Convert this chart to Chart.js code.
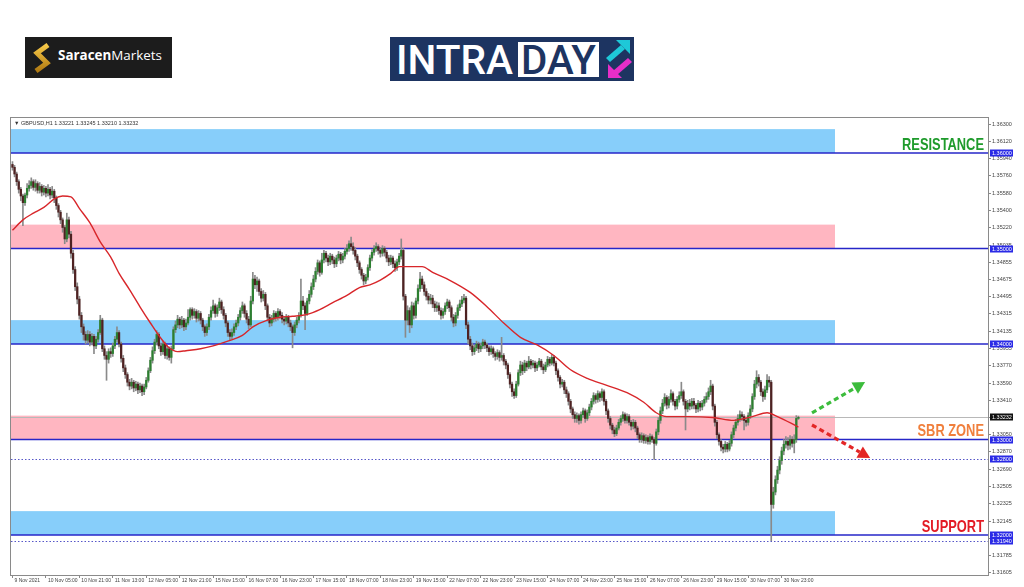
<!DOCTYPE html>
<html><head><meta charset="utf-8">
<script src="https://cdn.jsdelivr.net/npm/chart.js@4.4.1/dist/chart.umd.min.js"></script>
<style>
html,body{margin:0;padding:0;background:#fff;width:1024px;height:587px;overflow:hidden}
#c{position:absolute;left:0;top:0}
#sm{position:absolute;left:25px;top:37px;width:147px;height:41px;background:#1c1c1c}
#smt{position:absolute;left:33px;top:10px;line-height:17px;color:#fff;font-family:"Open Sans",sans-serif;font-size:13.4px;white-space:nowrap}
#id{position:absolute;left:390px;top:37px}
</style></head><body>
<canvas id="c" width="1024" height="587"></canvas>
<div id="sm">
<svg width="147" height="41" style="position:absolute;left:0;top:0">
<defs><linearGradient id="g" x1="0" y1="0" x2="0" y2="1"><stop offset="0" stop-color="#f7c948"/><stop offset="1" stop-color="#b07a12"/></linearGradient></defs>
<polyline points="23,8 12,16 22,26 11,34" fill="none" stroke="url(#g)" stroke-width="5" stroke-linejoin="miter"/>
</svg>
<div id="smt"><b>Saracen</b>Markets</div>
</div>
<svg id="id" width="244" height="44">
<rect width="244" height="44" fill="#1d3461"/>
<text x="6" y="37" font-family="Roboto" font-weight="500" font-size="40" fill="#fff" textLength="117" lengthAdjust="spacingAndGlyphs">INTRA</text>
<rect x="128" y="5" width="81" height="35" fill="#fff"/>
<text x="131" y="37" font-family="Roboto" font-weight="500" font-size="40" fill="#1d3461" textLength="75" lengthAdjust="spacingAndGlyphs">DAY</text>
<polygon points="226,3 240,3 240,17" fill="#1ec8d8"/>
<polygon points="216,21 231,8 235,12 220,25" fill="#1ec8d8"/>
<polygon points="218,41 218,27 232,41" fill="#e62ec8"/>
<polygon points="238,21 242,25 227,38 223,34" fill="#e62ec8"/>
</svg>
<script>
// ---------------- DATA ----------------
const timeLabels = ["9 Nov 2021","10 Nov 05:00","10 Nov 21:00","11 Nov 13:00","12 Nov 05:00","12 Nov 21:00","15 Nov 15:00","16 Nov 07:00","16 Nov 23:00","17 Nov 15:00","18 Nov 07:00","18 Nov 23:00","19 Nov 15:00","22 Nov 07:00","22 Nov 23:00","23 Nov 15:00","24 Nov 07:00","24 Nov 23:00","25 Nov 15:00","26 Nov 07:00","26 Nov 23:00","29 Nov 15:00","30 Nov 07:00","30 Nov 23:00"];
const timeIndex = [0,16,32,48,64,80,96,112,128,144,160,176,192,208,224,240,256,272,288,304,320,336,352,368];

const firstOpen = 1.3588;
const closes = [
1.3585,1.3578,1.3570,1.3562,1.3555,1.3548,1.3556,1.3563,1.3566,1.3570,
1.3564,1.3568,1.3561,1.3565,1.3559,1.3563,1.3558,1.3562,1.3556,1.3560,
1.3553,1.3545,1.3538,1.3530,1.3522,1.3510,1.3530,1.3515,1.3495,1.3478,
1.3460,1.3447,1.3430,1.3418,1.3410,1.3404,1.3410,1.3402,1.3408,1.3398,
1.3405,1.3412,1.3425,1.3395,1.3388,1.3384,1.3392,1.3390,1.3398,1.3405,
1.3412,1.3400,1.3385,1.3375,1.3368,1.3360,1.3356,1.3360,1.3354,1.3358,
1.3352,1.3356,1.3350,1.3355,1.3362,1.3372,1.3383,1.3393,1.3402,1.3410,
1.3398,1.3392,1.3400,1.3388,1.3395,1.3386,1.3395,1.3415,1.3420,1.3426,
1.3420,1.3425,1.3418,1.3422,1.3428,1.3436,1.3430,1.3434,1.3427,1.3432,
1.3425,1.3418,1.3412,1.3418,1.3428,1.3435,1.3440,1.3432,1.3438,1.3444,
1.3436,1.3430,1.3422,1.3412,1.3408,1.3412,1.3418,1.3422,1.3428,1.3435,
1.3440,1.3432,1.3426,1.3420,1.3445,1.3468,1.3462,1.3466,1.3455,1.3448,
1.3452,1.3440,1.3428,1.3422,1.3426,1.3432,1.3428,1.3434,1.3430,1.3426,
1.3424,1.3428,1.3422,1.3418,1.3412,1.3420,1.3425,1.3430,1.3445,1.3440,
1.3432,1.3445,1.3452,1.3460,1.3468,1.3476,1.3485,1.3475,1.3488,1.3495,
1.3490,1.3486,1.3492,1.3488,1.3484,1.3490,1.3494,1.3488,1.3492,1.3497,
1.3500,1.3505,1.3502,1.3498,1.3492,1.3485,1.3478,1.3472,1.3466,1.3470,
1.3480,1.3490,1.3496,1.3500,1.3502,1.3498,1.3495,1.3500,1.3496,1.3490,
1.3486,1.3490,1.3484,1.3480,1.3486,1.3492,1.3498,1.3450,1.3425,1.3435,
1.3420,1.3440,1.3430,1.3445,1.3458,1.3468,1.3462,1.3455,1.3450,1.3446,
1.3448,1.3442,1.3438,1.3440,1.3435,1.3430,1.3434,1.3440,1.3444,1.3438,
1.3428,1.3422,1.3430,1.3438,1.3442,1.3446,1.3448,1.3420,1.3405,1.3398,
1.3392,1.3396,1.3400,1.3395,1.3398,1.3402,1.3399,1.3396,1.3392,1.3395,
1.3390,1.3387,1.3391,1.3386,1.3388,1.3382,1.3378,1.3368,1.3358,1.3350,
1.3346,1.3358,1.3370,1.3378,1.3372,1.3380,1.3376,1.3382,1.3378,1.3380,
1.3375,1.3378,1.3382,1.3376,1.3373,1.3378,1.3384,1.3380,1.3386,1.3380,
1.3372,1.3365,1.3358,1.3360,1.3352,1.3348,1.3340,1.3332,1.3326,1.3322,
1.3325,1.3320,1.3326,1.3330,1.3322,1.3328,1.3334,1.3340,1.3346,1.3342,
1.3348,1.3344,1.3350,1.3340,1.3330,1.3322,1.3315,1.3310,1.3306,1.3312,
1.3318,1.3322,1.3326,1.3320,1.3324,1.3318,1.3314,1.3318,1.3312,1.3305,
1.3300,1.3304,1.3299,1.3302,1.3298,1.3303,1.3300,1.3296,1.3308,1.3320,
1.3330,1.3338,1.3344,1.3336,1.3342,1.3348,1.3340,1.3335,1.3342,1.3346,
1.3350,1.3340,1.3332,1.3338,1.3335,1.3340,1.3336,1.3332,1.3338,1.3334,
1.3338,1.3342,1.3345,1.3350,1.3356,1.3335,1.3318,1.3305,1.3298,1.3292,
1.3290,1.3295,1.3290,1.3296,1.3305,1.3312,1.3318,1.3322,1.3326,1.3324,
1.3320,1.3318,1.3325,1.3332,1.3345,1.3358,1.3365,1.3360,1.3350,1.3345,
1.3352,1.3362,1.3360,1.3232,1.3245,1.3258,1.3268,1.3278,1.3288,1.3295,
1.3298,1.3294,1.3300,1.3296,1.3300,1.33221,1.33232];
const highs = [
1.3591,1.3587,1.3580,1.3572,1.3564,1.3557,1.3558,1.3568,1.3571,1.3574,
1.3572,1.3572,1.3570,1.3569,1.3567,1.3566,1.3565,1.3567,1.3564,1.3565,
1.3562,1.3555,1.3547,1.3540,1.3532,1.3524,1.3537,1.3533,1.3518,1.3498,
1.3481,1.3464,1.3450,1.3433,1.3421,1.3413,1.3414,1.3413,1.3411,1.3410,
1.3408,1.3415,1.3430,1.3427,1.3398,1.3392,1.3395,1.3396,1.3401,1.3408,
1.3418,1.3414,1.3402,1.3388,1.3378,1.3370,1.3363,1.3364,1.3362,1.3361,
1.3360,1.3359,1.3358,1.3358,1.3365,1.3375,1.3386,1.3397,1.3405,1.3414,
1.3412,1.3401,1.3403,1.3402,1.3398,1.3397,1.3398,1.3418,1.3424,1.3430,
1.3428,1.3429,1.3427,1.3426,1.3436,1.3438,1.3438,1.3437,1.3436,1.3435,
1.3434,1.3427,1.3420,1.3421,1.3431,1.3439,1.3446,1.3442,1.3441,1.3448,
1.3446,1.3439,1.3432,1.3424,1.3415,1.3416,1.3421,1.3425,1.3431,1.3438,
1.3444,1.3442,1.3435,1.3429,1.3450,1.3475,1.3472,1.3470,1.3468,1.3458,
1.3456,1.3454,1.3442,1.3431,1.3430,1.3435,1.3434,1.3437,1.3436,1.3433,
1.3429,1.3431,1.3430,1.3425,1.3420,1.3423,1.3428,1.3433,1.3468,1.3450,
1.3443,1.3448,1.3456,1.3464,1.3472,1.3480,1.3488,1.3487,1.3495,1.3498,
1.3497,1.3493,1.3495,1.3494,1.3491,1.3493,1.3497,1.3496,1.3495,1.3500,
1.3504,1.3508,1.3512,1.3506,1.3501,1.3494,1.3487,1.3480,1.3474,1.3473,
1.3483,1.3493,1.3499,1.3503,1.3506,1.3504,1.3501,1.3503,1.3502,1.3498,
1.3493,1.3493,1.3492,1.3487,1.3489,1.3495,1.3510,1.3500,1.3452,1.3440,
1.3438,1.3444,1.3443,1.3448,1.3462,1.3475,1.3471,1.3465,1.3458,1.3453,
1.3452,1.3451,1.3445,1.3444,1.3443,1.3438,1.3437,1.3443,1.3447,1.3446,
1.3440,1.3431,1.3433,1.3441,1.3446,1.3450,1.3452,1.3450,1.3423,1.3408,
1.3401,1.3399,1.3403,1.3402,1.3401,1.3405,1.3404,1.3401,1.3398,1.3398,
1.3397,1.3392,1.3394,1.3393,1.3407,1.3390,1.3384,1.3380,1.3370,1.3360,
1.3353,1.3361,1.3373,1.3382,1.3381,1.3383,1.3382,1.3387,1.3384,1.3383,
1.3382,1.3381,1.3385,1.3384,1.3379,1.3381,1.3387,1.3386,1.3389,1.3388,
1.3382,1.3374,1.3367,1.3363,1.3362,1.3355,1.3350,1.3342,1.3334,1.3329,
1.3328,1.3327,1.3329,1.3333,1.3332,1.3331,1.3337,1.3343,1.3349,1.3348,
1.3351,1.3350,1.3353,1.3352,1.3342,1.3332,1.3324,1.3317,1.3313,1.3315,
1.3321,1.3325,1.3329,1.3328,1.3327,1.3326,1.3320,1.3321,1.3320,1.3314,
1.3307,1.3307,1.3306,1.3305,1.3304,1.3306,1.3305,1.3302,1.3311,1.3323,
1.3334,1.3342,1.3348,1.3346,1.3345,1.3352,1.3350,1.3342,1.3345,1.3350,
1.3360,1.3352,1.3342,1.3341,1.3342,1.3343,1.3343,1.3338,1.3341,1.3340,
1.3341,1.3345,1.3349,1.3354,1.3362,1.3358,1.3337,1.3320,1.3307,1.3300,
1.3295,1.3298,1.3297,1.3299,1.3308,1.3315,1.3321,1.3326,1.3330,1.3329,
1.3326,1.3323,1.3328,1.3336,1.3348,1.3362,1.3372,1.3368,1.3362,1.3353,
1.3356,1.3368,1.3366,1.3362,1.3250,1.3262,1.3272,1.3282,1.3292,1.3300,
1.3303,1.3302,1.3304,1.3303,1.3305,1.3325,1.33245];
const lows = [
1.3582,1.3575,1.3566,1.3558,1.3550,1.3524,1.3545,1.3553,1.3560,1.3563,
1.3561,1.3560,1.3558,1.3558,1.3555,1.3556,1.3554,1.3555,1.3552,1.3553,
1.3548,1.3541,1.3533,1.3526,1.3517,1.3505,1.3507,1.3511,1.3490,1.3474,
1.3456,1.3442,1.3426,1.3412,1.3404,1.3400,1.3401,1.3398,1.3399,1.3390,
1.3395,1.3402,1.3410,1.3392,1.3384,1.3362,1.3380,1.3386,1.3387,1.3395,
1.3402,1.3397,1.3381,1.3371,1.3364,1.3356,1.3352,1.3353,1.3350,1.3351,
1.3348,1.3349,1.3346,1.3347,1.3353,1.3360,1.3370,1.3380,1.3390,1.3399,
1.3395,1.3388,1.3389,1.3385,1.3384,1.3383,1.3380,1.3393,1.3412,1.3417,
1.3416,1.3417,1.3414,1.3415,1.3420,1.3425,1.3426,1.3427,1.3423,1.3424,
1.3421,1.3414,1.3408,1.3409,1.3415,1.3425,1.3432,1.3428,1.3429,1.3435,
1.3432,1.3426,1.3418,1.3408,1.3404,1.3405,1.3409,1.3415,1.3419,1.3425,
1.3432,1.3428,1.3422,1.3416,1.3418,1.3442,1.3458,1.3455,1.3451,1.3444,
1.3445,1.3436,1.3424,1.3418,1.3419,1.3423,1.3424,1.3425,1.3426,1.3422,
1.3420,1.3421,1.3418,1.3414,1.3396,1.3409,1.3417,1.3422,1.3428,1.3436,
1.3415,1.3430,1.3442,1.3449,1.3457,1.3465,1.3473,1.3471,1.3473,1.3485,
1.3486,1.3482,1.3483,1.3484,1.3480,1.3481,1.3487,1.3484,1.3485,1.3489,
1.3494,1.3497,1.3498,1.3494,1.3488,1.3481,1.3474,1.3468,1.3462,1.3463,
1.3467,1.3477,1.3487,1.3493,1.3497,1.3494,1.3491,1.3492,1.3492,1.3486,
1.3482,1.3483,1.3480,1.3476,1.3477,1.3483,1.3489,1.3446,1.3407,1.3420,
1.3412,1.3417,1.3426,1.3427,1.3442,1.3455,1.3458,1.3451,1.3446,1.3442,
1.3442,1.3438,1.3434,1.3434,1.3431,1.3426,1.3427,1.3431,1.3437,1.3434,
1.3424,1.3418,1.3419,1.3427,1.3435,1.3439,1.3443,1.3416,1.3400,1.3394,
1.3388,1.3389,1.3393,1.3391,1.3392,1.3395,1.3395,1.3392,1.3388,1.3389,
1.3386,1.3383,1.3384,1.3382,1.3383,1.3378,1.3374,1.3364,1.3354,1.3345,
1.3343,1.3344,1.3356,1.3367,1.3368,1.3370,1.3372,1.3374,1.3374,1.3375,
1.3371,1.3372,1.3376,1.3373,1.3369,1.3371,1.3376,1.3377,1.3378,1.3377,
1.3368,1.3361,1.3354,1.3355,1.3348,1.3344,1.3336,1.3328,1.3322,1.3318,
1.3318,1.3316,1.3317,1.3323,1.3318,1.3320,1.3325,1.3331,1.3337,1.3338,
1.3339,1.3340,1.3341,1.3336,1.3326,1.3318,1.3311,1.3306,1.3303,1.3304,
1.3310,1.3315,1.3319,1.3317,1.3317,1.3315,1.3310,1.3311,1.3308,1.3301,
1.3297,1.3297,1.3296,1.3296,1.3295,1.3295,1.3297,1.3279,1.3294,1.3305,
1.3317,1.3327,1.3335,1.3332,1.3333,1.3339,1.3336,1.3331,1.3332,1.3339,
1.3343,1.3336,1.3310,1.3329,1.3331,1.3332,1.3332,1.3328,1.3329,1.3330,
1.3331,1.3335,1.3339,1.3342,1.3347,1.3331,1.3314,1.3301,1.3294,1.3288,
1.3286,1.3287,1.3287,1.3288,1.3293,1.3302,1.3309,1.3315,1.3319,1.3320,
1.3310,1.3314,1.3315,1.3322,1.3329,1.3342,1.3354,1.3356,1.3346,1.3340,
1.3342,1.3349,1.3355,1.3194,1.3228,1.3242,1.3254,1.3264,1.3274,1.3284,
1.3291,1.3289,1.3290,1.3292,1.3286,1.3297,1.33210];
const lastOpen = 1.33221;

const maIndex = [0,5,10,15,20,24,28,32,37,42,47,51,56,61,66,71,75,79,83,90,96,103,110,115,122,128,134,141,147,153,160,166,171,176,181,185,190,196,201,209,219,227,235,243,251,259,267,275,284,294,302,308,313,323,335,345,354,361,366,376];
const maValues = [1.3519,1.3530,1.3537,1.3543,1.3552,1.3555,1.3554,1.3542,1.3527,1.3507,1.3491,1.3474,1.3457,1.3439,1.3422,1.3406,1.3396,1.3392,1.3393,1.3395,1.3398,1.3403,1.3409,1.3418,1.3425,1.3428,1.3429,1.3431,1.3436,1.3443,1.3451,1.3459,1.3462,1.3467,1.3474,1.3481,1.3481,1.3481,1.3475,1.3467,1.3454,1.3439,1.3422,1.3407,1.3399,1.3388,1.3373,1.3364,1.3357,1.3349,1.3339,1.3328,1.3324,1.3324,1.3323,1.3320,1.3324,1.3328,1.3324,1.3313];

const yTicks = [1.36300,1.36120,1.35940,1.35760,1.35580,1.35400,1.35220,1.35035,1.34855,1.34675,1.34495,1.34315,1.34135,1.33955,1.33770,1.33590,1.33410,1.33230,1.33050,1.32870,1.32690,1.32505,1.32325,1.32145,1.31965,1.31785,1.31605];

const zoneLow  = [1.3600,1.3500,1.3400,1.3300,1.3200];
const zoneHigh = [1.3625,1.3525,1.3425,1.3325,1.3225];
const zoneKind = ["buy","sell","buy","sell","buy"];
const solidLevels = [1.36000,1.35000,1.34000,1.33000,1.32000];
const dottedLevels = [1.32800,1.31940];
const zoneLabelText = ["RESISTANCE","SBR ZONE","SUPPORT"];
const zoneLabelLevel = [1.36000,1.33000,1.32000];
const arrowFromIdx = [382.5,382.5], arrowFromPrice = [1.33278,1.33152];
const arrowToIdx = [407.9,410.3], arrowToPrice = [1.33602,1.32806];

// ---------------- SETTINGS ----------------
const SYMBOL = "GBPUSD,H1";
const X_MIN = -0.7, X_MAX = 466.7, Y_MIN = 1.315812, Y_MAX = 1.363665;
const ZONE_END = 393.5;
const BULL = "#2c7f30", BEAR = "#4e2222", WICK = "#8a8a8a";
const ZONE_COLOR = {buy:"#87cefa", sell:"#ffb6c1"};
const LABEL_COLOR = ["#1f9b2c","#f07f3c","#e31b25"];
const ARROW_COLOR = ["#3cbc3c","#e32626"];
const AXIS_FONT = "Liberation Sans";

const opens = closes.map((c, i) => i === 0 ? firstOpen : (i === closes.length - 1 ? lastOpen : closes[i - 1]));

function drawArrow(ctx, x1, y1, x2, y2, color) {
  const ang = Math.atan2(y2 - y1, x2 - x1), head = 12, hw = 6.5;
  const bx = x2 - head * Math.cos(ang), by = y2 - head * Math.sin(ang);
  ctx.save();
  ctx.strokeStyle = color; ctx.lineWidth = 3.2; ctx.setLineDash([5, 3.5]);
  ctx.beginPath(); ctx.moveTo(x1, y1); ctx.lineTo(bx, by); ctx.stroke();
  ctx.setLineDash([]); ctx.fillStyle = color; ctx.beginPath();
  ctx.moveTo(x2, y2);
  ctx.lineTo(bx + hw * Math.sin(ang), by - hw * Math.cos(ang));
  ctx.lineTo(bx - hw * Math.sin(ang), by + hw * Math.cos(ang));
  ctx.closePath(); ctx.fill();
  ctx.restore();
}

const levelsPlugin = {
  id: "levels",
  beforeDatasetsDraw(chart) {
    const {ctx, chartArea: a, scales: {x, y}} = chart;
    ctx.save();
    ctx.beginPath(); ctx.rect(a.left, a.top, a.right - a.left, a.bottom - a.top); ctx.clip();
    const xe = x.getPixelForValue(ZONE_END);
    zoneLow.forEach((lo, k) => {
      const y1 = y.getPixelForValue(zoneHigh[k]), y2 = y.getPixelForValue(lo);
      ctx.fillStyle = ZONE_COLOR[zoneKind[k]];
      ctx.fillRect(a.left, y1, xe - a.left, y2 - y1);
    });
    const lp = Math.round(y.getPixelForValue(closes[closes.length - 1])) + 0.5;
    ctx.strokeStyle = "#b8b8b8"; ctx.lineWidth = 1;
    ctx.beginPath(); ctx.moveTo(a.left, lp); ctx.lineTo(a.right, lp); ctx.stroke();
    ctx.strokeStyle = "#2626c8"; ctx.lineWidth = 1.5;
    solidLevels.forEach(v => {
      const py = y.getPixelForValue(v);
      ctx.beginPath(); ctx.moveTo(a.left, py); ctx.lineTo(a.right, py); ctx.stroke();
    });
    ctx.strokeStyle = "#5656c8"; ctx.lineWidth = 1; ctx.setLineDash([1.5, 2]);
    dottedLevels.forEach(v => {
      const py = Math.round(y.getPixelForValue(v)) + 0.5;
      ctx.beginPath(); ctx.moveTo(a.left, py); ctx.lineTo(a.right, py); ctx.stroke();
    });
    ctx.restore();
  },
  afterDraw(chart) {
    const {ctx, chartArea: a, scales: {x, y}} = chart;
    ctx.save();
    arrowFromIdx.forEach((fi, k) => {
      drawArrow(ctx, x.getPixelForValue(fi), y.getPixelForValue(arrowFromPrice[k]),
        x.getPixelForValue(arrowToIdx[k]), y.getPixelForValue(arrowToPrice[k]), ARROW_COLOR[k]);
    });
    zoneLabelText.forEach((t, k) => {
      ctx.save();
      ctx.font = 'bold 16.5px "Liberation Sans", Arial, sans-serif';
      ctx.fillStyle = LABEL_COLOR[k]; ctx.textAlign = "right"; ctx.textBaseline = "alphabetic";
      ctx.translate(a.right - 4, y.getPixelForValue(zoneLabelLevel[k]) - 3.5);
      ctx.scale(0.78, 1);
      ctx.fillText(t, 0, 0);
      ctx.restore();
    });
    ctx.strokeStyle = "#8a8a8a"; ctx.lineWidth = 1;
    ctx.strokeRect(a.left - 0.5, a.top - 0.5, a.right - a.left + 1, a.bottom - a.top + 1);
    const n = closes.length - 1;
    const hdr = "\u25BC " + SYMBOL + " " + [opens[n], highs[n], lows[n], closes[n]].map(v => v.toFixed(5)).join(" ");
    ctx.font = '5.5px "Liberation Sans", sans-serif'; ctx.fillStyle = "#333"; ctx.textAlign = "left"; ctx.textBaseline = "middle";
    ctx.fillText(hdr, a.left + 3, a.top + 5);
    ctx.font = '5.5px "Liberation Sans", sans-serif'; ctx.textBaseline = "middle";
    const boxes = solidLevels.concat(dottedLevels).map(v => ({v, c: "#2a2ae6"}));
    boxes.push({v: closes[n], c: "#111"});
    boxes.forEach(b => {
      const py = Math.round(y.getPixelForValue(b.v));
      ctx.fillStyle = b.c; ctx.fillRect(a.right + 2, py - 3.5, 23, 7);
      ctx.fillStyle = "#fff"; ctx.fillText(b.v.toFixed(5), a.right + 4, py + 0.5);
    });
    ctx.restore();
  }
};

new Chart(document.getElementById("c"), {
  type: "bar",
  data: {
    datasets: [
      { type: "line", data: maIndex.map((v, k) => ({x: v, y: maValues[k]})), borderColor: "#d8262a", borderWidth: 1.4,
        pointRadius: 0, cubicInterpolationMode: "monotone", order: 0 },
      { type: "bar", data: closes.map((c, i) => ({x: i, y: [opens[i], c]})),
        backgroundColor: ctx => (closes[ctx.dataIndex] >= opens[ctx.dataIndex] ? BULL : BEAR),
        barThickness: 1.6, minBarLength: 1, grouped: false, order: 1 },
      { type: "bar", data: closes.map((c, i) => ({x: i, y: [lows[i], highs[i]]})),
        backgroundColor: WICK, barThickness: 1, grouped: false, order: 2 }
    ]
  },
  options: {
    responsive: false, animation: false, events: [],
    layout: {padding: {left: 11, top: 118, right: 0, bottom: 0}},
    plugins: {legend: {display: false}, tooltip: {enabled: false}},
    scales: {
      x: {
        type: "linear", min: X_MIN, max: X_MAX, offset: false,
        afterBuildTicks: s => { s.ticks = timeIndex.map(v => ({value: v})); },
        afterFit: s => { s.height = 12; },
        grid: {drawOnChartArea: false, tickLength: 3, color: "#888", offset: false},
        border: {display: false},
        ticks: {autoSkip: false, maxRotation: 0, minRotation: 0, align: "start", labelOffset: 2, padding: 0,
          color: "#444", font: {family: AXIS_FONT, size: 5},
          callback: (v, i) => timeLabels[i]}
      },
      y: {
        type: "linear", position: "right", min: Y_MIN, max: Y_MAX,
        afterBuildTicks: s => { s.ticks = yTicks.map(v => ({value: v})); },
        afterFit: s => { s.width = 36; },
        grid: {drawOnChartArea: false, tickLength: 3, color: "#888"},
        border: {display: false},
        ticks: {autoSkip: false, padding: 1, color: "#444", font: {family: AXIS_FONT, size: 5.5},
          callback: v => Number(v).toFixed(5)}
      }
    }
  },
  plugins: [levelsPlugin]
});
</script>
</body></html>
